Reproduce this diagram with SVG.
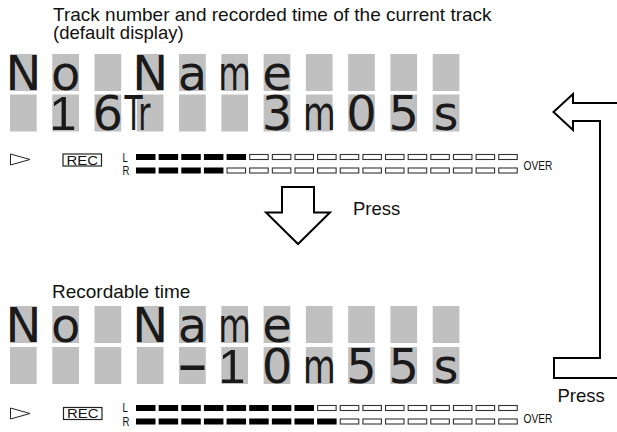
<svg xmlns="http://www.w3.org/2000/svg" xmlns:xlink="http://www.w3.org/1999/xlink" width="617" height="432" viewBox="0 0 617 432">
<defs>
<style>
.lbl{font-family:"Liberation Sans",Arial,sans-serif;font-size:18.5px;fill:#111}
.cell{fill:#c0c0c0}
.g{font-family:"DejaVu Sans",sans-serif;font-size:48px;fill:#1a1a1a;text-anchor:middle}
.g1{font-family:"Liberation Sans",Arial,sans-serif;font-size:49px;fill:#1a1a1a;text-anchor:middle}
.sm{font-family:"Liberation Sans",Arial,sans-serif;font-size:12px;fill:#111}
.rec{font-family:"Liberation Sans",Arial,sans-serif;font-size:12.5px;fill:#111}
.segF{fill:#000}
.segE{fill:#fff;stroke:#333;stroke-width:1.1}
.arr{fill:#fff;stroke:#000;stroke-width:2;stroke-linejoin:miter}
.tri{fill:#fff;stroke:#222;stroke-width:1}
.box{fill:#fff;stroke:#222;stroke-width:1.2}
</style>
<rect id="c" class="cell" width="26.7" height="37"/>
<rect id="sf" class="segF" width="19.5" height="6"/>
<rect id="se" class="segE" x="0.5" y="0.5" width="18.5" height="5"/>
</defs>

<text class="lbl" x="53" y="21" style="font-size:19px">Track number and recorded time of the current track</text>
<text class="lbl" x="53" y="39">(default display)</text>

<g id="display1">
<use xlink:href="#c" x="10" y="54"/><use xlink:href="#c" x="52.27" y="54"/><use xlink:href="#c" x="94.54" y="54"/><use xlink:href="#c" x="136.81" y="54"/><use xlink:href="#c" x="179.08" y="54"/><use xlink:href="#c" x="221.35" y="54"/><use xlink:href="#c" x="263.62" y="54"/><use xlink:href="#c" x="305.89" y="54"/><use xlink:href="#c" x="348.16" y="54"/><use xlink:href="#c" x="390.43" y="54"/><use xlink:href="#c" x="432.7" y="54"/>
<use xlink:href="#c" x="10" y="94.5"/><use xlink:href="#c" x="52.27" y="94.5"/><use xlink:href="#c" x="94.54" y="94.5"/><use xlink:href="#c" x="136.81" y="94.5"/><use xlink:href="#c" x="179.08" y="94.5"/><use xlink:href="#c" x="221.35" y="94.5"/><use xlink:href="#c" x="263.62" y="94.5"/><use xlink:href="#c" x="305.89" y="94.5"/><use xlink:href="#c" x="348.16" y="94.5"/><use xlink:href="#c" x="390.43" y="94.5"/><use xlink:href="#c" x="432.7" y="94.5"/>
<text class="g" x="23.35" y="89.5">N</text>
<text class="g" x="65.62" y="89.5">o</text>
<text class="g" x="150.16" y="89.5">N</text>
<text class="g" x="192.43" y="89.5">a</text>
<text class="g" transform="translate(234.7,89.5) scale(0.7,1)">m</text>
<text class="g" x="276.97" y="89.5">e</text>
<text class="g1" x="63" y="130">1</text>
<text class="g" x="107.89" y="130">6</text>
<text class="g" x="137.5" y="130" text-anchor="start" textLength="26" lengthAdjust="spacingAndGlyphs">Tr</text>
<text class="g" x="276.97" y="130">3</text>
<text class="g" transform="translate(319.24,130) scale(0.7,1)">m</text>
<text class="g" x="361.51" y="130">0</text>
<text class="g" x="403.78" y="130">5</text>
<text class="g" x="446.05" y="130">s</text>
</g>

<g id="meter1">
<polygon class="tri" points="10.5,154 30,159.5 10.5,165"/>
<rect class="box" x="63" y="154" width="38.5" height="12"/>
<text class="rec" x="66.5" y="164.8" textLength="31.5" lengthAdjust="spacingAndGlyphs">REC</text>
<text class="sm" transform="translate(122.5,161.5) scale(0.8,1)">L</text>
<text class="sm" transform="translate(122.5,175) scale(0.8,1)">R</text>
<use xlink:href="#sf" x="136" y="154"/><use xlink:href="#sf" x="158.64" y="154"/><use xlink:href="#sf" x="181.28" y="154"/><use xlink:href="#sf" x="203.92" y="154"/><use xlink:href="#sf" x="226.56" y="154"/><use xlink:href="#se" x="249.2" y="154"/><use xlink:href="#se" x="271.84" y="154"/><use xlink:href="#se" x="294.48" y="154"/><use xlink:href="#se" x="317.12" y="154"/><use xlink:href="#se" x="339.76" y="154"/><use xlink:href="#se" x="362.4" y="154"/><use xlink:href="#se" x="385.04" y="154"/><use xlink:href="#se" x="407.68" y="154"/><use xlink:href="#se" x="430.32" y="154"/><use xlink:href="#se" x="452.96" y="154"/><use xlink:href="#se" x="475.6" y="154"/><use xlink:href="#se" x="498.24" y="154"/>
<use xlink:href="#sf" x="136" y="167.5"/><use xlink:href="#sf" x="158.64" y="167.5"/><use xlink:href="#sf" x="181.28" y="167.5"/><use xlink:href="#sf" x="203.92" y="167.5"/><use xlink:href="#se" x="226.56" y="167.5"/><use xlink:href="#se" x="249.2" y="167.5"/><use xlink:href="#se" x="271.84" y="167.5"/><use xlink:href="#se" x="294.48" y="167.5"/><use xlink:href="#se" x="317.12" y="167.5"/><use xlink:href="#se" x="339.76" y="167.5"/><use xlink:href="#se" x="362.4" y="167.5"/><use xlink:href="#se" x="385.04" y="167.5"/><use xlink:href="#se" x="407.68" y="167.5"/><use xlink:href="#se" x="430.32" y="167.5"/><use xlink:href="#se" x="452.96" y="167.5"/><use xlink:href="#se" x="475.6" y="167.5"/><use xlink:href="#se" x="498.24" y="167.5"/>
<text class="sm" transform="translate(523.5,169.5) scale(0.85,1)">OVER</text>
</g>

<g id="connectors">
<polygon class="arr" points="282,187 314,187 314,212.5 330,212.5 298,244 266,212.5 282,212.5"/>
<polyline class="arr" fill="none" points="620,103 573,103 573,94 553.5,112 573,130 573,121 600,121 600,358 554,358 554,378 620,378"/>
</g>
<text class="lbl" x="353" y="215">Press</text>
<text class="lbl" x="557.5" y="401.5">Press</text>

<text class="lbl" x="52" y="298" style="font-size:19px">Recordable time</text>

<g id="display2">
<use xlink:href="#c" x="10" y="306"/><use xlink:href="#c" x="52.27" y="306"/><use xlink:href="#c" x="94.54" y="306"/><use xlink:href="#c" x="136.81" y="306"/><use xlink:href="#c" x="179.08" y="306"/><use xlink:href="#c" x="221.35" y="306"/><use xlink:href="#c" x="263.62" y="306"/><use xlink:href="#c" x="305.89" y="306"/><use xlink:href="#c" x="348.16" y="306"/><use xlink:href="#c" x="390.43" y="306"/><use xlink:href="#c" x="432.7" y="306"/>
<use xlink:href="#c" x="10" y="347"/><use xlink:href="#c" x="52.27" y="347"/><use xlink:href="#c" x="94.54" y="347"/><use xlink:href="#c" x="136.81" y="347"/><use xlink:href="#c" x="179.08" y="347"/><use xlink:href="#c" x="221.35" y="347"/><use xlink:href="#c" x="263.62" y="347"/><use xlink:href="#c" x="305.89" y="347"/><use xlink:href="#c" x="348.16" y="347"/><use xlink:href="#c" x="390.43" y="347"/><use xlink:href="#c" x="432.7" y="347"/>
<text class="g" x="23.35" y="341.5">N</text>
<text class="g" x="65.62" y="341.5">o</text>
<text class="g" x="150.16" y="341.5">N</text>
<text class="g" x="192.43" y="341.5">a</text>
<text class="g" transform="translate(234.7,341.5) scale(0.7,1)">m</text>
<text class="g" x="276.97" y="341.5">e</text>
<text class="g" transform="translate(192.43,382.5) scale(1.9,1.2)">-</text>
<text class="g1" x="232" y="382.5">1</text>
<text class="g" x="276.97" y="382.5">0</text>
<text class="g" transform="translate(319.24,382.5) scale(0.7,1)">m</text>
<text class="g" x="361.51" y="382.5">5</text>
<text class="g" x="403.78" y="382.5">5</text>
<text class="g" x="446.05" y="382.5">s</text>
</g>

<g id="meter2">
<polygon class="tri" points="10.5,408 30,413.5 10.5,419"/>
<rect class="box" x="63.5" y="407.5" width="38.5" height="12"/>
<text class="rec" x="67" y="418.3" textLength="31.5" lengthAdjust="spacingAndGlyphs">REC</text>
<text class="sm" transform="translate(122.5,412) scale(0.8,1)">L</text>
<text class="sm" transform="translate(122.5,425.5) scale(0.8,1)">R</text>
<use xlink:href="#sf" x="136" y="405"/><use xlink:href="#sf" x="158.64" y="405"/><use xlink:href="#sf" x="181.28" y="405"/><use xlink:href="#sf" x="203.92" y="405"/><use xlink:href="#sf" x="226.56" y="405"/><use xlink:href="#sf" x="249.2" y="405"/><use xlink:href="#sf" x="271.84" y="405"/><use xlink:href="#sf" x="294.48" y="405"/><use xlink:href="#se" x="317.12" y="405"/><use xlink:href="#se" x="339.76" y="405"/><use xlink:href="#se" x="362.4" y="405"/><use xlink:href="#se" x="385.04" y="405"/><use xlink:href="#se" x="407.68" y="405"/><use xlink:href="#se" x="430.32" y="405"/><use xlink:href="#se" x="452.96" y="405"/><use xlink:href="#se" x="475.6" y="405"/><use xlink:href="#se" x="498.24" y="405"/>
<use xlink:href="#sf" x="136" y="418.5"/><use xlink:href="#sf" x="158.64" y="418.5"/><use xlink:href="#sf" x="181.28" y="418.5"/><use xlink:href="#sf" x="203.92" y="418.5"/><use xlink:href="#sf" x="226.56" y="418.5"/><use xlink:href="#sf" x="249.2" y="418.5"/><use xlink:href="#sf" x="271.84" y="418.5"/><use xlink:href="#sf" x="294.48" y="418.5"/><use xlink:href="#sf" x="317.12" y="418.5"/><use xlink:href="#se" x="339.76" y="418.5"/><use xlink:href="#se" x="362.4" y="418.5"/><use xlink:href="#se" x="385.04" y="418.5"/><use xlink:href="#se" x="407.68" y="418.5"/><use xlink:href="#se" x="430.32" y="418.5"/><use xlink:href="#se" x="452.96" y="418.5"/><use xlink:href="#se" x="475.6" y="418.5"/><use xlink:href="#se" x="498.24" y="418.5"/>
<text class="sm" transform="translate(523.5,423) scale(0.85,1)">OVER</text>
</g>
</svg>
